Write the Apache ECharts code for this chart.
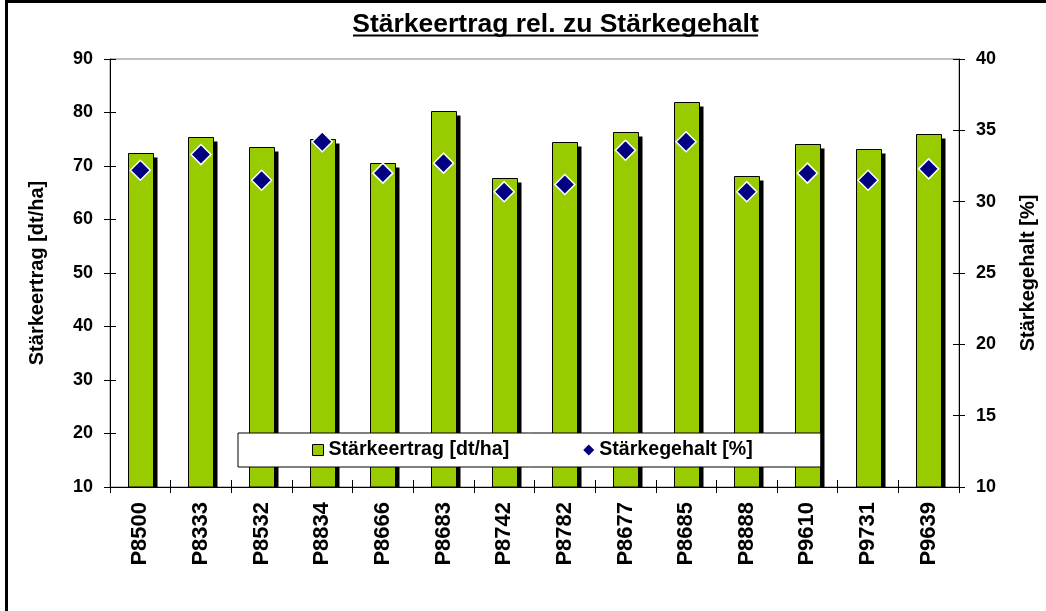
<!DOCTYPE html>
<html>
<head>
<meta charset="utf-8">
<script src="https://cdn.jsdelivr.net/npm/echarts@6/dist/echarts.min.js"></script>
<style>
html,body{margin:0;padding:0;background:#fff;}
#chart{width:1046px;height:611px;}
</style>
</head>
<body>
<div id="chart"></div>
<script>
const categories = ['P8500','P8333','P8532','P8834','P8666','P8683','P8742','P8782','P8677','P8685','P8888','P9610','P9731','P9639'];
const ertrag = [72.4, 75.4, 73.6, 75.1, 70.5, 80.3, 67.8, 74.5, 76.4, 82.0, 68.1, 74.1, 73.1, 75.9];
const gehalt = [32.2, 33.3, 31.5, 34.2, 32.0, 32.7, 30.7, 31.2, 33.6, 34.2, 30.7, 32.0, 31.5, 32.3];
const titleText = 'Stärkeertrag rel. zu Stärkegehalt';
const leftName = 'Stärkeertrag [dt/ha]';
const rightName = 'Stärkegehalt [%]';
const leftMin = 10, leftMax = 90, leftStep = 10;
const rightMin = 10, rightMax = 40, rightStep = 5;

const FONT = 'Liberation Sans, Arial, sans-serif';
const chart = echarts.init(document.getElementById('chart'));

const tickLabel = {fontFamily: FONT, fontWeight: 'bold', fontSize: 18, color: '#000'};

function renderBar(params, api) {
  const idx = api.value(0);
  const top = api.coord([idx, api.value(1)]);
  const base = api.coord([idx, leftMin]);
  const w = 25, off = 4;
  const x = Math.round(top[0] - w / 2) + 0.5;
  const yTop = Math.round(top[1]) + 0.5;
  const yBase = Math.round(base[1]);
  return {
    type: 'group',
    children: [
      {type: 'rect', shape: {x: x + off, y: yTop + off, width: w, height: yBase - yTop - off}, style: {fill: '#000'}},
      {type: 'rect', shape: {x: x, y: yTop, width: w, height: yBase - yTop}, style: {fill: '#99CC00', stroke: '#000', lineWidth: 1}}
    ]
  };
}

chart.setOption({
  animation: false,
  backgroundColor: '#fff',
  graphic: [
    {type: 'rect', shape: {x: 6.5, y: 1.5, width: 1200, height: 800}, style: {fill: 'none', stroke: '#000', lineWidth: 3}, z: 100},
    {type: 'text', x: 555.5, y: 25, style: {text: titleText, font: 'bold 26.5px ' + FONT, fill: '#000', textAlign: 'center', textVerticalAlign: 'middle'}},
    {type: 'rect', shape: {x: 353, y: 34.5, width: 405, height: 2}, style: {fill: '#000'}}
  ],
  grid: {left: 110, right: 85, top: 59, bottom: 124, show: true, borderColor: '#808080', borderWidth: 1, backgroundColor: 'transparent'},
  legend: {
    left: 238, top: 433,
    padding: [7, 68, 7, 74],
    itemGap: 74,
    itemWidth: 11, itemHeight: 11,
    borderColor: '#000', borderWidth: 1, backgroundColor: '#fff',
    textStyle: {fontFamily: FONT, fontWeight: 'bold', fontSize: 19.6, color: '#000'},
    data: [
      {name: leftName, icon: 'rect', itemStyle: {color: '#99CC00', borderColor: '#000', borderWidth: 1}},
      {name: rightName, icon: 'diamond', itemStyle: {color: '#000080', borderWidth: 0, opacity: 1}}
    ]
  },
  xAxis: [
    {type: 'category', data: categories, position: 'bottom', z: 10,
     axisLine: {lineStyle: {color: '#000', width: 1}},
     axisTick: {show: true, inside: false, length: 6, lineStyle: {color: '#000'}},
     axisLabel: {rotate: 90, margin: 15, fontFamily: FONT, fontWeight: 'bold', fontSize: 22, color: '#000'},
     splitLine: {show: false}},
    {type: 'category', data: categories, position: 'bottom', z: 10,
     axisLine: {show: false},
     axisTick: {show: true, inside: true, length: 7, lineStyle: {color: '#000'}},
     axisLabel: {show: false}, splitLine: {show: false}}
  ],
  yAxis: [
    {type: 'value', min: leftMin, max: leftMax, interval: leftStep, position: 'left', z: 10,
     name: leftName, nameLocation: 'middle', nameGap: 63, nameRotate: 90,
     nameTextStyle: {fontFamily: FONT, fontWeight: 'bold', fontSize: 20, color: '#000'},
     axisLine: {show: true, lineStyle: {color: '#000', width: 1}},
     axisTick: {show: true, inside: false, length: 6, lineStyle: {color: '#000'}},
     axisLabel: Object.assign({margin: 17}, tickLabel),
     splitLine: {show: false}},
    {type: 'value', min: rightMin, max: rightMax, interval: rightStep, position: 'right', z: 10,
     name: rightName, nameLocation: 'middle', nameGap: 59, nameRotate: 90,
     nameTextStyle: {fontFamily: FONT, fontWeight: 'bold', fontSize: 20, color: '#000'},
     axisLine: {show: true, lineStyle: {color: '#000', width: 1}},
     axisTick: {show: true, inside: false, length: 6, lineStyle: {color: '#000'}},
     axisLabel: Object.assign({margin: 17}, tickLabel),
     splitLine: {show: false}},
    {type: 'value', min: leftMin, max: leftMax, interval: leftStep, position: 'left', z: 10,
     axisLine: {show: false}, axisTick: {show: true, inside: true, length: 6, lineStyle: {color: '#000'}},
     axisLabel: {show: false}, splitLine: {show: false}},
    {type: 'value', min: rightMin, max: rightMax, interval: rightStep, position: 'right', z: 10,
     axisLine: {show: false}, axisTick: {show: true, inside: true, length: 6, lineStyle: {color: '#000'}},
     axisLabel: {show: false}, splitLine: {show: false}}
  ],
  series: [
    {name: leftName, type: 'custom', xAxisIndex: 0, yAxisIndex: 0,
     data: ertrag.map((v, i) => [i, v]),
     encode: {x: 0, y: 1},
     itemStyle: {color: '#99CC00'},
     renderItem: renderBar},
    {name: rightName, type: 'scatter', xAxisIndex: 0, yAxisIndex: 1, data: gehalt, symbol: 'diamond', symbolSize: 20, z: 5,
     itemStyle: {color: '#000080', borderColor: '#fff', borderWidth: 1.5, opacity: 1}}
  ]
});
</script>
</body>
</html>
